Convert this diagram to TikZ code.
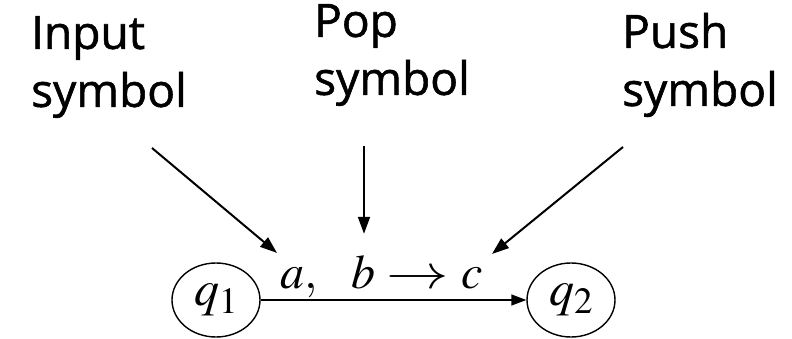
\documentclass[tikz,border=0pt]{standalone}
\usepackage{mathptmx}
\usepackage{graphicx}
\usepackage{fontspec}
\setmainfont{Open Sans}
\newfontfamily\notefont{Open Sans}[FakeBold=1.2]
\usetikzlibrary{arrows.meta,positioning,shapes.geometric}
\tikzset{
  notebox/.style={align=left, anchor=west, inner sep=0pt, font=\notefont\fontsize{46}{58}\selectfont},
  statebox/.style={draw, ellipse, line width=1.4pt, minimum width=88pt, minimum height=74pt, inner sep=0pt, font=\fontsize{50}{50}\selectfont},
  symbox/.style={inner sep=1pt, font=\fontsize{48}{50}\selectfont},
  pointer/.style={-{Triangle[length=17pt,width=12pt]}, line width=2pt},
  move/.style={-{Triangle[length=15pt,width=11pt]}, line width=1.5pt}
}
\begin{document}
\begin{tikzpicture}[x=1pt,y=-1pt]
    \useasboundingbox (0,0) rectangle (792,339);
    % Notes on top
    \node[notebox] (input) at (31,67) {Input\\symbol};
    \node[notebox] (pop) at (314,55) {Pop\\symbol};
    \node[notebox] (push) at (622,65) {Push\\symbol};
    % States
    \node[statebox] (q1) at (216,300) {$q_1$};
    \node[statebox] (q2) at (571,300) {$q_2$};
    \draw[move] (q1) -- (q2);
    % Transition label
    \node[symbox, anchor=base west] (la) at (279,288) {$a,$};
    \node[symbox, anchor=base] (lb) at (363,288) {$b$};
    \node[symbox, anchor=base] (lto) at (418,288) {\scalebox{1.3}[1]{$\rightarrow$}};
    \node[symbox, anchor=base east] (lc) at (484,288) {$c$};
    % Pointers
    \coordinate (tin) at (152,148);
    \coordinate (tpop) at (364,146);
    \coordinate (tpush) at (623,147);
    \draw[pointer] (tin) -- ([shift={(-2,-13)}]la.north west);
    \draw[pointer] (tpop) -- ([shift={(0,-20)}]tpop |- lb.north);
    \draw[pointer] (tpush) -- ([shift={(8,-12)}]lc.north east);
  \end{tikzpicture}
\end{document}
